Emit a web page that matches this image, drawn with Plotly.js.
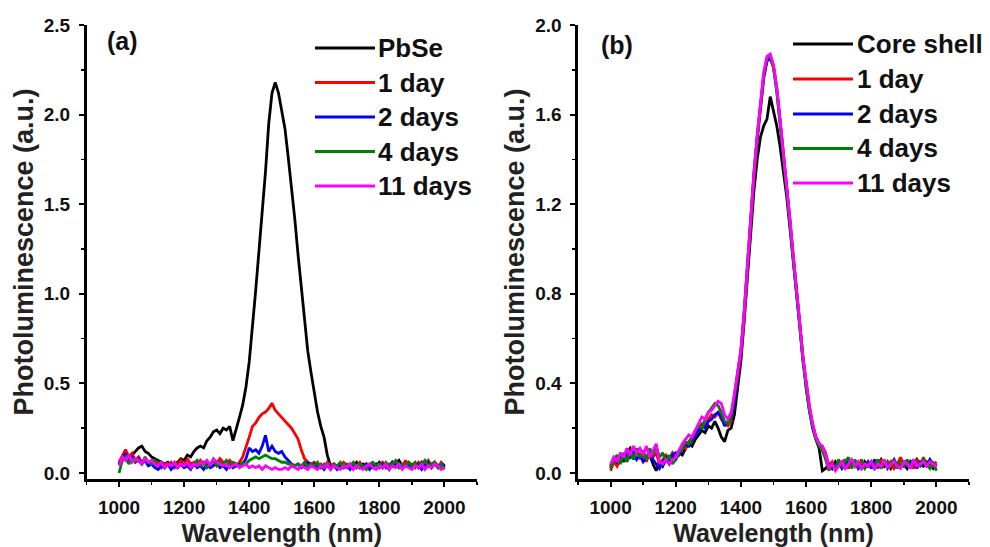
<!DOCTYPE html>
<html>
<head>
<meta charset="utf-8">
<script src="https://cdn.plot.ly/plotly-3.0.1.min.js"></script>
<style>html,body{margin:0;padding:0;background:#fff;}#chart{width:990px;height:547px;}</style>
</head>
<body>
<div id="chart"></div>
<script>
// ---------- DATA ----------
const wavelength = [
 1000,1010,1020,1030,1040,1050,1060,1070,1080,1090,
 1100,1110,1120,1130,1140,1150,1160,1170,1180,1190,
 1200,1210,1220,1230,1240,1250,1260,1270,1280,1290,
 1300,1310,1320,1330,1340,1350,1360,1370,1380,1390,
 1400,1410,1420,1430,1440,1450,1460,1470,1480,1490,
 1500,1510,1520,1530,1540,1550,1560,1570,1580,1590,
 1600,1610,1620,1630,1640,1650,1660,1670,1680,1690,
 1700,1710,1720,1730,1740,1750,1760,1770,1780,1790,
 1800,1810,1820,1830,1840,1850,1860,1870,1880,1890,
 1900,1910,1920,1930,1940,1950,1960,1970,1980,1990,
 2000];

const namesA = ["PbSe", "1 day", "2 days", "4 days", "11 days"];
const namesB = ["Core shell", "1 day", "2 days", "4 days", "11 days"];
const seriesColors = ["#000000", "#ff0000", "#0000ff", "#008000", "#ff00ff"];

// Panel (a)
const a_PbSe = [
 0.05,0.09,0.11,0.08,0.10,0.12,0.14,0.15,0.12,0.11,
 0.09,0.08,0.07,0.06,0.05,0.06,0.04,0.05,0.06,0.08,
 0.07,0.10,0.09,0.12,0.14,0.15,0.14,0.18,0.20,0.23,
 0.24,0.22,0.25,0.24,0.26,0.18,0.24,0.31,0.38,0.48,
 0.62,0.80,1.02,1.24,1.45,1.68,1.95,2.12,2.18,2.12,
 2.02,1.92,1.76,1.60,1.42,1.22,1.05,0.85,0.68,0.56,
 0.44,0.34,0.26,0.20,0.10,0.04,0.05,0.03,0.05,0.04,
 0.03,0.05,0.04,0.06,0.03,0.05,0.04,0.03,0.05,0.04,
 0.06,0.03,0.05,0.04,0.06,0.05,0.07,0.04,0.05,0.06,
 0.04,0.05,0.03,0.06,0.04,0.05,0.03,0.06,0.04,0.05,
 0.03];
const a_1day = [
 0.06,0.10,0.13,0.09,0.11,0.07,0.09,0.06,0.08,0.05,
 0.07,0.04,0.06,0.03,0.05,0.04,0.06,0.03,0.05,0.07,
 0.04,0.08,0.05,0.06,0.04,0.07,0.05,0.06,0.04,0.07,
 0.05,0.08,0.06,0.05,0.07,0.05,0.04,0.06,0.09,0.14,
 0.20,0.26,0.28,0.31,0.33,0.34,0.36,0.39,0.35,0.33,
 0.31,0.29,0.27,0.25,0.22,0.19,0.13,0.08,0.06,0.05,
 0.06,0.04,0.05,0.03,0.06,0.04,0.05,0.03,0.04,0.06,
 0.04,0.03,0.05,0.04,0.06,0.03,0.05,0.04,0.03,0.05,
 0.04,0.06,0.03,0.05,0.04,0.06,0.05,0.03,0.07,0.04,
 0.05,0.03,0.06,0.04,0.05,0.07,0.04,0.05,0.03,0.06,
 0.04];
const a_2days = [
 0.05,0.08,0.11,0.07,0.09,0.06,0.08,0.05,0.07,0.04,
 0.05,0.03,0.02,0.04,0.03,0.05,0.02,0.04,0.03,0.05,
 0.03,0.04,0.02,0.05,0.03,0.04,0.02,0.05,0.03,0.04,
 0.06,0.03,0.04,0.02,0.05,0.03,0.04,0.05,0.05,0.08,
 0.14,0.12,0.13,0.11,0.15,0.21,0.12,0.15,0.12,0.11,
 0.12,0.09,0.07,0.05,0.04,0.05,0.03,0.04,0.06,0.04,
 0.05,0.03,0.04,0.02,0.05,0.03,0.04,0.02,0.05,0.03,
 0.04,0.02,0.05,0.03,0.04,0.03,0.05,0.02,0.04,0.05,
 0.03,0.05,0.04,0.02,0.06,0.04,0.05,0.03,0.04,0.05,
 0.03,0.04,0.05,0.02,0.04,0.06,0.03,0.05,0.04,0.03,
 0.05];
const a_4days = [
 0.00,0.07,0.09,0.05,0.08,0.06,0.07,0.05,0.09,0.06,
 0.05,0.07,0.04,0.06,0.03,0.05,0.04,0.06,0.03,0.05,
 0.04,0.06,0.03,0.05,0.07,0.04,0.06,0.03,0.05,0.07,
 0.04,0.06,0.05,0.07,0.04,0.06,0.05,0.04,0.06,0.05,
 0.07,0.08,0.09,0.08,0.09,0.10,0.09,0.08,0.08,0.07,
 0.06,0.06,0.05,0.05,0.04,0.05,0.04,0.06,0.03,0.05,
 0.04,0.06,0.03,0.05,0.04,0.02,0.05,0.04,0.06,0.03,
 0.05,0.04,0.06,0.03,0.05,0.04,0.02,0.05,0.06,0.04,
 0.05,0.03,0.06,0.04,0.05,0.07,0.03,0.05,0.04,0.06,
 0.04,0.06,0.03,0.05,0.07,0.04,0.05,0.06,0.03,0.05,
 0.02];
const a_11days = [
 0.04,0.09,0.07,0.10,0.06,0.08,0.07,0.05,0.08,0.06,
 0.07,0.05,0.04,0.06,0.03,0.05,0.04,0.06,0.03,0.05,
 0.04,0.06,0.03,0.05,0.04,0.06,0.05,0.07,0.04,0.08,
 0.06,0.05,0.04,0.05,0.03,0.04,0.05,0.03,0.04,0.05,
 0.03,0.04,0.03,0.04,0.02,0.04,0.03,0.02,0.03,0.02,
 0.02,0.03,0.02,0.04,0.03,0.02,0.04,0.03,0.02,0.04,
 0.03,0.02,0.04,0.03,0.05,0.02,0.04,0.03,0.02,0.04,
 0.03,0.05,0.02,0.04,0.03,0.02,0.04,0.05,0.03,0.02,
 0.04,0.03,0.05,0.02,0.04,0.03,0.05,0.02,0.04,0.03,
 0.02,0.04,0.03,0.05,0.02,0.04,0.03,0.05,0.04,0.02,
 0.03];

// Panel (b)
const b_core = [
 0.02,0.06,0.04,0.07,0.05,0.09,0.11,0.08,0.10,0.07,
 0.09,0.06,0.08,0.04,0.01,0.05,0.03,0.06,0.04,0.07,
 0.06,0.09,0.08,0.11,0.13,0.12,0.15,0.17,0.19,0.18,
 0.21,0.20,0.23,0.20,0.16,0.14,0.19,0.20,0.26,0.38,
 0.50,0.68,0.88,1.08,1.26,1.40,1.50,1.55,1.58,1.68,
 1.62,1.55,1.46,1.36,1.24,1.10,0.95,0.80,0.65,0.50,
 0.38,0.28,0.20,0.15,0.11,0.01,0.02,0.04,0.02,0.05,
 0.03,0.04,0.06,0.02,0.05,0.03,0.04,0.02,0.05,0.03,
 0.05,0.02,0.04,0.06,0.03,0.05,0.02,0.04,0.03,0.05,
 0.04,0.02,0.05,0.03,0.06,0.04,0.03,0.05,0.04,0.02,
 0.04];
const b_1day = [
 0.01,0.05,0.03,0.06,0.08,0.05,0.09,0.06,0.10,0.07,
 0.08,0.05,0.10,0.07,0.09,0.04,0.06,0.08,0.06,0.09,
 0.07,0.10,0.12,0.11,0.14,0.16,0.18,0.20,0.22,0.21,
 0.24,0.26,0.25,0.27,0.24,0.22,0.21,0.23,0.33,0.43,
 0.52,0.68,0.90,1.12,1.32,1.48,1.62,1.76,1.84,1.86,
 1.82,1.72,1.58,1.44,1.30,1.14,0.98,0.84,0.68,0.52,
 0.40,0.30,0.22,0.16,0.13,0.12,0.09,0.03,0.05,0.02,
 0.04,0.03,0.06,0.02,0.05,0.04,0.03,0.06,0.02,0.04,
 0.03,0.05,0.02,0.06,0.04,0.03,0.05,0.02,0.04,0.07,
 0.03,0.05,0.04,0.02,0.06,0.03,0.07,0.04,0.05,0.03,
 0.05];
const b_2days = [
 0.03,0.07,0.05,0.08,0.06,0.10,0.07,0.09,0.06,0.08,
 0.05,0.07,0.09,0.06,0.04,0.02,0.05,0.07,0.05,0.08,
 0.09,0.08,0.11,0.13,0.12,0.15,0.17,0.19,0.21,0.20,
 0.23,0.24,0.26,0.27,0.25,0.21,0.23,0.24,0.32,0.44,
 0.54,0.72,0.93,1.14,1.34,1.50,1.64,1.77,1.84,1.85,
 1.81,1.71,1.57,1.43,1.29,1.13,0.97,0.83,0.67,0.51,
 0.39,0.29,0.21,0.16,0.13,0.11,0.07,0.02,0.04,0.03,
 0.05,0.02,0.04,0.06,0.03,0.05,0.02,0.04,0.03,0.05,
 0.02,0.06,0.03,0.04,0.05,0.02,0.04,0.06,0.03,0.04,
 0.05,0.03,0.04,0.06,0.02,0.05,0.04,0.03,0.06,0.04,
 0.03];
const b_4days = [
 0.02,0.06,0.08,0.04,0.09,0.05,0.10,0.06,0.11,0.07,
 0.10,0.06,0.11,0.08,0.12,0.07,0.09,0.05,0.08,0.04,
 0.06,0.09,0.11,0.14,0.13,0.16,0.19,0.21,0.20,0.24,
 0.27,0.29,0.31,0.30,0.27,0.23,0.22,0.25,0.34,0.45,
 0.55,0.71,0.92,1.13,1.33,1.50,1.65,1.78,1.85,1.86,
 1.81,1.70,1.56,1.42,1.28,1.12,0.96,0.82,0.66,0.50,
 0.38,0.28,0.21,0.15,0.12,0.10,0.06,0.01,0.04,0.02,
 0.06,0.03,0.05,0.07,0.02,0.06,0.03,0.05,0.02,0.04,
 0.05,0.03,0.06,0.02,0.04,0.05,0.03,0.06,0.02,0.05,
 0.03,0.06,0.02,0.05,0.04,0.03,0.06,0.04,0.02,0.05,
 0.01];
const b_11days = [
 0.04,0.07,0.05,0.09,0.07,0.11,0.08,0.12,0.09,0.11,
 0.08,0.12,0.07,0.10,0.13,0.05,0.04,0.06,0.04,0.06,
 0.07,0.10,0.13,0.15,0.17,0.16,0.19,0.22,0.25,0.24,
 0.27,0.28,0.30,0.32,0.31,0.26,0.24,0.27,0.35,0.45,
 0.55,0.72,0.93,1.14,1.34,1.51,1.66,1.79,1.86,1.87,
 1.82,1.72,1.58,1.44,1.30,1.14,0.98,0.84,0.68,0.52,
 0.40,0.30,0.22,0.16,0.13,0.12,0.08,0.02,0.04,0.01,
 0.03,0.05,0.02,0.04,0.06,0.03,0.05,0.02,0.04,0.03,
 0.05,0.02,0.04,0.03,0.06,0.02,0.04,0.05,0.03,0.02,
 0.05,0.04,0.02,0.06,0.03,0.04,0.05,0.03,0.05,0.04,
 0.03];

const seriesA = [a_PbSe, a_1day, a_2days, a_4days, a_11days];
const seriesB = [b_core, b_1day, b_2days, b_4days, b_11days];
const xTickVals = [1000, 1200, 1400, 1600, 1800, 2000];
const yTickValsA = [0.0, 0.5, 1.0, 1.5, 2.0, 2.5];
const yTickValsB = [0.0, 0.4, 0.8, 1.2, 1.6, 2.0];

// ---------- CHART ----------
const FONT = '"Liberation Sans", Arial, Helvetica, sans-serif';
const W = 990, H = 547, MT = 25, MB = 68;
const plotH = H - MT - MB;
const px = v => v / W;                 // pixel x -> paper x
const py = v => (H - MB - v) / plotH;  // pixel y -> paper y

const traces = [];
seriesA.forEach((ys, i) => traces.push({
  x: wavelength, y: ys, name: namesA[i], type: 'scatter', mode: 'lines',
  xaxis: 'x', yaxis: 'y', line: {color: seriesColors[i], width: 2.8}, showlegend: false
}));
seriesB.forEach((ys, i) => traces.push({
  x: wavelength, y: ys, name: namesB[i], type: 'scatter', mode: 'lines',
  xaxis: 'x2', yaxis: 'y2', line: {color: seriesColors[i], width: 2.8}, showlegend: false
}));

const tickFont = {family: FONT, size: 19, color: '#111'};

function xAxis(domain, anchor) {
  return {
    domain: domain, anchor: anchor, range: [900, 2100],
    tickmode: 'array', tickvals: xTickVals, ticktext: xTickVals.map(v => '<b>' + v + '</b>'),
    ticks: 'outside', ticklen: 5, tickwidth: 2, tickcolor: '#000',
    minor: {ticks: 'outside', ticklen: 3, tickwidth: 1.5, tickcolor: '#000', dtick: 100, tick0: 900, showgrid: false},
    showline: true, linewidth: 2.6, linecolor: '#000',
    showgrid: false, zeroline: false, ticklabelstandoff: 5,
    tickfont: tickFont,
    title: {text: '<b>Wavelength (nm)</b>', font: {family: FONT, size: 25, color: '#222'}, standoff: 9}
  };
}
function yAxis(range, vals, anchor) {
  const step = vals[1] - vals[0];
  return {
    domain: [0, 1], anchor: anchor, range: range,
    tickmode: 'array', tickvals: vals, ticktext: vals.map(v => '<b>' + v.toFixed(1) + '</b>'),
    ticks: 'outside', ticklen: 5, tickwidth: 2, tickcolor: '#000',
    minor: {ticks: 'outside', ticklen: 3, tickwidth: 1.5, tickcolor: '#000', tick0: 0, dtick: step / 2, showgrid: false},
    showline: true, linewidth: 2.6, linecolor: '#000',
    showgrid: false, zeroline: false, ticklabelstandoff: 5,
    tickfont: tickFont,
    title: {text: '<b>Photoluminescence (a.u.)</b>', font: {family: FONT, size: 27, color: '#222'}, standoff: 3}
  };
}

const shapes = [], annotations = [];
function addLegend(names, lineX0, lineX1, textX, rowsY) {
  names.forEach((n, i) => {
    shapes.push({type: 'line', xref: 'paper', yref: 'paper',
      x0: px(lineX0), x1: px(lineX1), y0: py(rowsY[i]), y1: py(rowsY[i]),
      line: {color: seriesColors[i], width: 3}});
    annotations.push({xref: 'paper', yref: 'paper', x: px(textX), y: py(rowsY[i]),
      xanchor: 'left', yanchor: 'middle', showarrow: false, text: '<b>' + n + '</b>',
      font: {family: FONT, size: 26, color: '#111'}});
  });
}
addLegend(namesA, 315, 375, 376, [48, 82.5, 117, 151.5, 186]);
addLegend(namesB, 793, 853, 855, [44, 79, 114, 148.5, 183]);

annotations.push({xref: 'paper', yref: 'paper', x: px(122), y: py(41), xanchor: 'center', yanchor: 'middle',
  showarrow: false, text: '<b>(a)</b>', font: {family: FONT, size: 25, color: '#111'}});
annotations.push({xref: 'paper', yref: 'paper', x: px(617), y: py(45), xanchor: 'center', yanchor: 'middle',
  showarrow: false, text: '<b>(b)</b>', font: {family: FONT, size: 25, color: '#111'}});

const layout = {
  width: W, height: H,
  margin: {l: 0, r: 0, t: MT, b: MB, pad: 0},
  paper_bgcolor: '#fff', plot_bgcolor: '#fff',
  showlegend: false,
  font: {family: FONT, color: '#000'},
  xaxis: xAxis([86.5 / W, 477 / W], 'y'),
  yaxis: yAxis([-0.0335, 2.5], yTickValsA, 'x'),
  xaxis2: xAxis([578 / W, 969 / W], 'y2'),
  yaxis2: yAxis([-0.027, 2.0], yTickValsB, 'x2'),
  shapes: shapes, annotations: annotations
};

Plotly.newPlot('chart', traces, layout, {staticPlot: true, displayModeBar: false});
</script>
</body>
</html>
